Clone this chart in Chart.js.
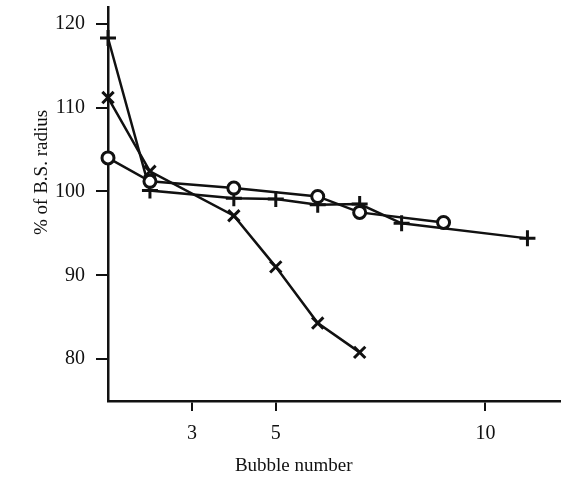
<!DOCTYPE html>
<html>
<head>
<meta charset="utf-8">
<script src="https://cdn.jsdelivr.net/npm/chart.js@4/dist/chart.umd.min.js"></script>
<style>
  html, body { margin: 0; padding: 0; background: #fff; overflow: hidden; }
  #wrap { width: 561px; height: 481px; }
  canvas { display: block; }
</style>
</head>
<body>
<div id="wrap"><canvas id="bubbleChart"></canvas></div>
<script>
// values
const plusX = [1, 2, 4, 5, 6, 7, 8, 11];
const plusY = [118.3, 100.1, 99.2, 99.1, 98.4, 98.5, 96.2, 94.4];
const crossX = [1, 2, 4, 5, 6, 7];
const crossY = [111.2, 102.4, 97.1, 91.0, 84.3, 80.8];
const circleX = [1, 2, 4, 6, 7, 9];
const circleY = [104.0, 101.2, 100.4, 99.4, 97.5, 96.3];
const xTicks = [3, 5, 10];
const yTicks = [80, 90, 100, 110, 120];

const pts = (xs, ys) => xs.map((x, i) => ({ x: x, y: ys[i] }));
const serif = '"Liberation Serif", "DejaVu Serif", serif';

// axis titles placed like in the printed figure
const axisTitles = {
    id: 'axisTitles',
    afterDraw(chart) {
        const ctx = chart.ctx;
        const a = chart.chartArea;
        ctx.save();
        ctx.fillStyle = '#111';
        ctx.font = '19px ' + serif;
        ctx.textAlign = 'center';
        ctx.textBaseline = 'middle';
        ctx.fillText('Bubble number', a.left + (a.right - a.left) * 0.41, 466);
        ctx.translate(42, a.top + (a.bottom - a.top) * 0.42);
        ctx.rotate(-Math.PI / 2);
        ctx.fillText('% of B.S. radius', 0, 0);
        ctx.restore();
    }
};

const line = {
    borderColor: '#111',
    borderWidth: 2.5,
    pointBorderColor: '#111',
    pointBorderWidth: 3,
    pointBackgroundColor: '#fff',
    tension: 0,
    clip: false
};

new Chart(document.getElementById('bubbleChart').getContext('2d'), {
    type: 'line',
    data: {
        datasets: [
            Object.assign({ data: pts(plusX, plusY), pointStyle: 'cross', pointRadius: 8, order: 3 }, line),
            Object.assign({ data: pts(crossX, crossY), pointStyle: 'crossRot', pointRadius: 8, order: 2 }, line),
            Object.assign({ data: pts(circleX, circleY), pointStyle: 'circle', pointRadius: 6, order: 1 }, line)
        ]
    },
    options: {
        responsive: true,
        maintainAspectRatio: false,
        animation: false,
        layout: { autoPadding: false, padding: { top: 7, right: 0, left: 0, bottom: 0 } },
        plugins: { legend: { display: false }, tooltip: { enabled: false } },
        scales: {
            x: {
                type: 'linear',
                min: 1,
                max: 11.8,
                afterBuildTicks: s => { s.ticks = xTicks.map(v => ({ value: v })); },
                afterFit: s => { s.height = 80; s.paddingLeft = 0; s.paddingRight = 0; },
                grid: { drawOnChartArea: false, drawTicks: true, tickLength: 10, color: '#111', lineWidth: 2 },
                border: { display: true, color: '#111', width: 2.5 },
                ticks: { color: '#111', font: { family: serif, size: 20 }, padding: 11, maxRotation: 0 }
            },
            y: {
                min: 75,
                max: 122,
                afterBuildTicks: s => { s.ticks = yTicks.map(v => ({ value: v })); },
                afterFit: s => { s.width = 108; s.paddingTop = 0; s.paddingBottom = 0; },
                grid: { drawOnChartArea: false, drawTicks: true, tickLength: 12, color: '#111', lineWidth: 2 },
                border: { display: true, color: '#111', width: 2.5 },
                ticks: { color: '#111', font: { family: serif, size: 20 }, padding: 11 }
            }
        }
    },
    plugins: [axisTitles]
});
</script>
</body>
</html>
